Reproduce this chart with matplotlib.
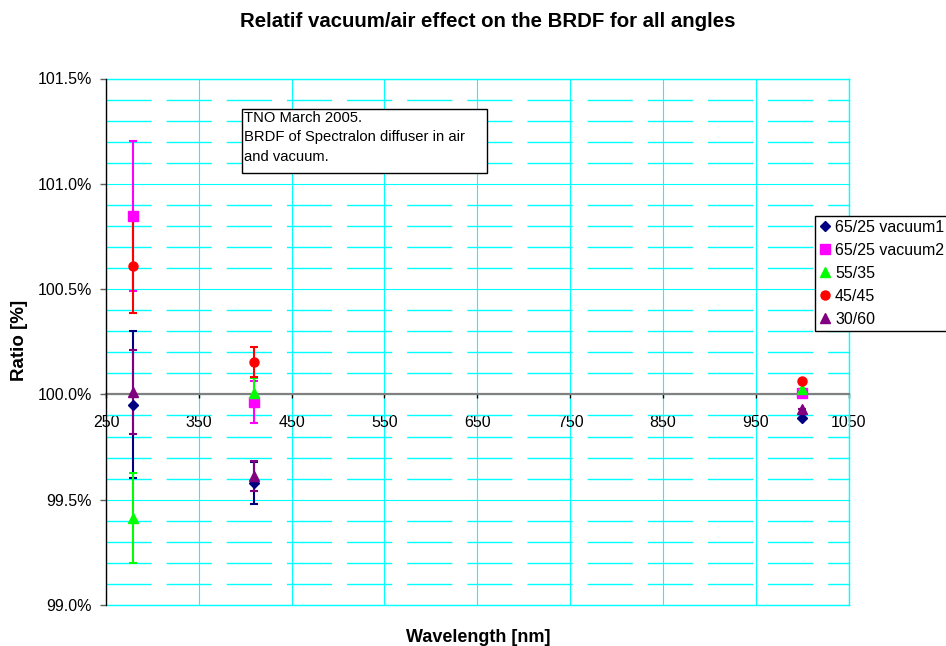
import matplotlib
matplotlib.use('Agg')
import matplotlib.pyplot as plt
from matplotlib.ticker import MultipleLocator, FuncFormatter
from matplotlib.patches import Rectangle

plt.rcParams['font.family'] = ['Liberation Sans', 'DejaVu Sans']

# ---- data ----
series_names = ['65/25 vacuum1', '65/25 vacuum2', '55/35', '45/45', '30/60']
wavelengths = [279, 409, 1000]
ratio_vac1 = [99.952, 99.580, 99.889]
err_vac1 = [0.348, 0.100, 0.0]
ratio_vac2 = [100.847, 99.964, 100.005]
err_vac2 = [0.354, 0.100, 0.0]
ratio_5535 = [99.413, 100.009, 100.025]
err_5535 = [0.215, 0.070, 0.0]
ratio_4545 = [100.608, 100.153, 100.063]
err_4545 = [0.220, 0.070, 0.0]
ratio_3060 = [100.012, 99.612, 99.930]
err_3060 = [0.200, 0.070, 0.0]

x_ticks = [250, 350, 450, 550, 650, 750, 850, 950, 1050]
title = 'Relatif vacuum/air effect on the BRDF for all angles'
note = 'TNO March 2005.\nBRDF of Spectralon diffuser in air\nand vacuum.'

values = [ratio_vac1, ratio_vac2, ratio_5535, ratio_4545, ratio_3060]
errors = [err_vac1, err_vac2, err_5535, err_4545, err_3060]
colors = ['#000080', '#FF00FF', '#00FF00', '#FF0000', '#800080']
markers = ['D', 's', '^', 'o', '^']
msizes = [5.5, 6.5, 7.0, 6.5, 7.0]

W, H = 946, 646
fig = plt.figure(figsize=(W / 100, H / 100), dpi=100)
fig.patch.set_facecolor('white')

def fx(px):
    return px / W

def fy(py):
    return 1 - py / H

ax = fig.add_axes([fx(106), fy(605), fx(848.5) - fx(106), fy(78.5) - fy(605)])
ax.set_xlim(250, 1050)
ax.set_ylim(99.0, 101.5)

cyan = '#00FFFF'
ax.set_axisbelow(True)
ax.set_xticks(x_ticks)
ax.yaxis.set_major_locator(MultipleLocator(0.5))
ax.yaxis.set_minor_locator(MultipleLocator(0.1))
ax.grid(axis='x', which='major', color=cyan, lw=0.8, ls='-')
ax.grid(axis='y', which='major', color=cyan, lw=0.8, ls='-')
ax.grid(axis='y', which='minor', color=cyan, lw=1.0, ls=(0, (32.5, 10.8)))
# plot-area border lines (top, bottom, right)
ax.axhline(101.5, color=cyan, lw=1.0, clip_on=False, zorder=1)
ax.axhline(99.0, color=cyan, lw=1.0, clip_on=False, zorder=1)
ax.axvline(1050, color=cyan, lw=1.0, clip_on=False, zorder=1)

ax.yaxis.set_major_formatter(FuncFormatter(lambda v, p: f'{v:.1f}%'))

for s in ['top', 'right']:
    ax.spines[s].set_visible(False)
ax.spines['left'].set_color('black')
ax.spines['left'].set_linewidth(1.0)
ax.spines['left'].set_zorder(2.6)
ax.spines['bottom'].set_position(('data', 100.0))
ax.spines['bottom'].set_color('#808080')
ax.spines['bottom'].set_linewidth(1.6)

ax.tick_params(axis='x', which='major', direction='out', length=3, width=1,
               color='black', pad=12, labelsize=11.5)
ax.tick_params(axis='y', which='major', direction='out', length=4, width=1,
               color='#606060', pad=6, labelsize=11.5)
ax.tick_params(axis='y', which='minor', length=0)

handles = []
for i in range(len(series_names)):
    ax.errorbar(wavelengths, values[i], yerr=errors[i], fmt='none',
                ecolor=colors[i], elinewidth=1.5, capsize=2.6, capthick=1.5,
                zorder=3 + i * 0.01)
for i in range(len(series_names)):
    h, = ax.plot(wavelengths, values[i], linestyle='none', marker=markers[i],
                 markersize=msizes[i], color=colors[i], markeredgecolor=colors[i],
                 label=series_names[i], zorder=4 + i * 0.01)
    handles.append(h)

leg = fig.legend(handles=handles, loc='upper left',
                 bbox_to_anchor=(fx(815), fy(215.7)), bbox_transform=fig.transFigure,
                 fontsize=11.5, frameon=True, fancybox=False, framealpha=1,
                 edgecolor='black', handlelength=0.7, handletextpad=0.3,
                 borderpad=0.25, labelspacing=0.5, borderaxespad=0)
leg.get_frame().set_linewidth(1.0)

# note box
fig.add_artist(Rectangle((fx(241.7), fy(172.7)), fx(487.3) - fx(241.7),
                         fy(109.3) - fy(172.7), transform=fig.transFigure,
                         facecolor='white', edgecolor='black', lw=1.0, zorder=5))
fig.text(fx(244), fy(111), note, ha='left', va='top', fontsize=10.6,
         linespacing=1.5, zorder=6)

fig.text(fx(487.5), fy(27), title, ha='center', va='baseline', fontsize=14.7,
         fontweight='bold')
fig.text(fx(478.5), fy(641.5), 'Wavelength [nm]', ha='center', va='baseline',
         fontsize=13, fontweight='bold')
fig.text(fx(20), fy(340), 'Ratio [%]', ha='center', va='center', rotation=90,
         fontsize=13.5, fontweight='bold')

fig.savefig('out.png', dpi=100, facecolor='white')
